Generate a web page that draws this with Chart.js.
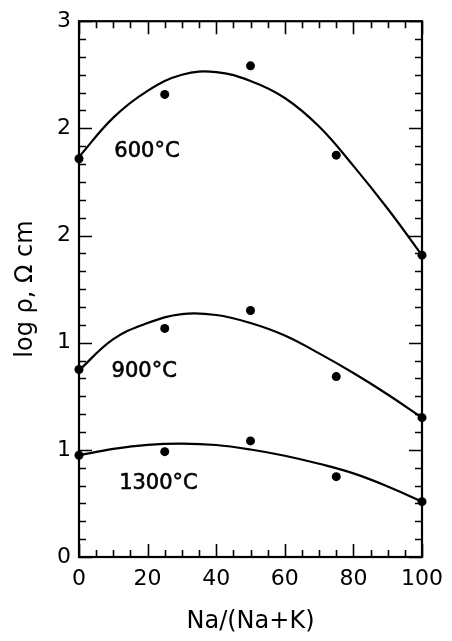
<!DOCTYPE html>
<html>
<head>
<meta charset="utf-8">
<script src="https://cdn.jsdelivr.net/npm/chart.js@4.4.1/dist/chart.umd.min.js"></script>
<style>
  body { margin: 0; background: #fff; }
</style>
</head>
<body>
<canvas id="grafica" width="452" height="641"></canvas>
<script>
// ejes
const xTicks = [0, 20, 40, 60, 80, 100];
const yTickLabels = ['0', '1', '1', '2', '2', '3'];

// puntos medidos
const naFraction = [0, 25, 50, 75, 100];
const rho600 = [2.23, 2.59, 2.75, 2.25, 1.69];
const rho900 = [1.05, 1.28, 1.38, 1.01, 0.78];
const rho1300 = [0.57, 0.59, 0.65, 0.45, 0.31];

// curvas ajustadas
const fitX = [0, 10, 20, 30, 40, 50, 60, 70, 80, 90, 100];
const fit600 = [2.24, 2.46, 2.61, 2.70, 2.715, 2.665, 2.57, 2.41, 2.19, 1.95, 1.69];
const fit900 = [1.045, 1.22, 1.31, 1.36, 1.355, 1.31, 1.24, 1.14, 1.03, 0.91, 0.78];
const fit1300 = [0.57, 0.605, 0.628, 0.635, 0.627, 0.602, 0.567, 0.522, 0.468, 0.395, 0.31];

const curveLabels = ['600°C', '900°C', '1300°C'];

const pares = (xs, ys) => xs.map((x, i) => ({x: x, y: ys[i]}));

function puntos(ys) {
  return {
    data: pares(naFraction, ys),
    showLine: false,
    pointRadius: 4.5,
    pointBackgroundColor: '#000',
    pointBorderWidth: 0,
    clip: false
  };
}
function curva(ys) {
  return {
    data: pares(fitX, ys),
    showLine: true,
    borderColor: '#000',
    borderWidth: 2.2,
    pointRadius: 0,
    tension: 0.4,
    clip: false
  };
}

// marco con marcas hacia dentro, y etiquetas de las curvas
const marcoEjes = {
  id: 'marcoEjes',
  afterDraw(chart) {
    const ctx = chart.ctx;
    const a = chart.chartArea;
    const sx = chart.scales.x, sy = chart.scales.y;
    ctx.save();
    ctx.strokeStyle = '#000';
    ctx.lineWidth = 2.2;
    ctx.strokeRect(a.left, a.top, a.right - a.left, a.bottom - a.top);
    ctx.lineWidth = 1.6;
    ctx.beginPath();
    for (let i = 0; i <= 20; i++) {
      const px = Math.round(sx.getPixelForValue(i * 5)) + 0.5;
      const len = i % 4 === 0 ? 13 : 7;
      ctx.moveTo(px, a.bottom); ctx.lineTo(px, a.bottom - len);
      ctx.moveTo(px, a.top); ctx.lineTo(px, a.top + len);
    }
    for (let i = 0; i <= 30; i++) {
      const py = Math.round(sy.getPixelForValue(i * 0.1)) + 0.5;
      const len = i % 6 === 0 ? 13 : 7;
      ctx.moveTo(a.left, py); ctx.lineTo(a.left + len, py);
      ctx.moveTo(a.right, py); ctx.lineTo(a.right - len, py);
    }
    ctx.stroke();

    const sitio = [[10.3, 2.27], [9.5, 1.04], [11.7, 0.41]];
    ctx.fillStyle = '#000';
    ctx.strokeStyle = '#000';
    ctx.lineWidth = 0.6;
    ctx.font = '21px "DejaVu Sans"';
    ctx.textAlign = 'left';
    ctx.textBaseline = 'middle';
    curveLabels.forEach((t, i) => {
      const px = sx.getPixelForValue(sitio[i][0]);
      const py = sy.getPixelForValue(sitio[i][1]);
      ctx.fillText(t, px, py);
      ctx.strokeText(t, px, py);
    });
    ctx.restore();
  }
};

const graf = document.getElementById('grafica').getContext('2d');
const miGrafica = new Chart(graf, {
  type: 'scatter',
  data: {
    datasets: [
      puntos(rho600), puntos(rho900), puntos(rho1300),
      curva(fit600), curva(fit900), curva(fit1300)
    ]
  },
  options: {
    responsive: false,
    animation: false,
    devicePixelRatio: 1,
    layout: { padding: { top: 20, right: 24, left: 0, bottom: 0 } },
    plugins: { legend: { display: false }, tooltip: { enabled: false } },
    scales: {
      x: {
        type: 'linear',
        min: 0, max: 100,
        afterBuildTicks: s => { s.ticks = xTicks.map(v => ({value: v})); },
        afterFit: s => { s.height = 84; },
        grid: { display: false, drawTicks: false },
        border: { display: false },
        ticks: {
          color: '#000',
          padding: 9,
          maxRotation: 0,
          font: { family: 'DejaVu Sans', size: 22 }
        },
        title: {
          display: true,
          text: 'Na/(Na+K)',
          color: '#000',
          padding: { top: 4, bottom: 5 },
          font: { family: 'DejaVu Sans', size: 24 }
        }
      },
      y: {
        type: 'linear',
        min: 0, max: 3,
        afterBuildTicks: s => { s.ticks = yTickLabels.map((t, i) => ({value: i * 0.6})); },
        afterFit: s => { s.width = 79; },
        grid: { display: false, drawTicks: false },
        border: { display: false },
        ticks: {
          color: '#000',
          padding: 8,
          font: { family: 'DejaVu Sans', size: 22 },
          callback: (v, i) => yTickLabels[i]
        },
        title: {
          display: true,
          text: 'log ρ, Ω cm',
          color: '#000',
          padding: { top: 11, bottom: 4 },
          font: { family: 'DejaVu Sans', size: 24 }
        }
      }
    }
  },
  plugins: [marcoEjes]
});
</script>
</body>
</html>
